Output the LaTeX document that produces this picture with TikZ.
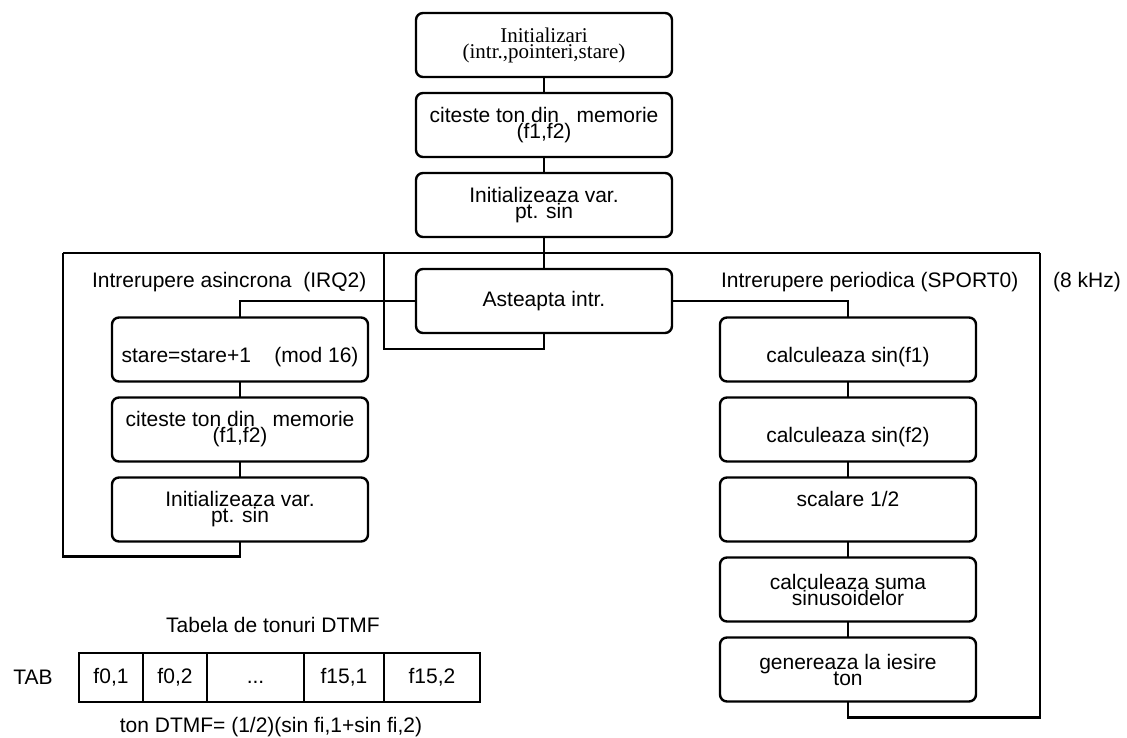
\documentclass[tikz,border=0pt]{standalone}
\usepackage{fontspec}
\setmainfont{Liberation Sans}
\newfontfamily\serifrom{Liberation Serif}
\usepackage{tikz}
\usetikzlibrary{positioning}

\newcommand{\figfont}{\fontsize{21}{16}\selectfont\lineskiplimit=-100pt}

\begin{document}
\begin{tikzpicture}[x=1pt, y=1pt, line width=2.2pt, node distance=16pt, font=\figfont,
                    BOX/.style={rectangle, draw=black, rounded corners=7pt, line width=2.4pt, minimum width=256pt, minimum height=64pt, outer sep=0pt, inner sep=0pt, align=center},
                    CELL/.style={rectangle, draw=black, line width=2pt, minimum height=49pt, outer sep=0pt, inner sep=0pt, text height=15pt, text depth=4pt},
                    LBL/.style={draw=none, fill=none, rectangle, inner sep=0pt},
                ]
                \useasboundingbox (0,0) rectangle (1127,-738);

                \begin{scope}
                    \node[BOX, font={\serifrom\figfont}] (Init) at (544,-45) {Initializari\\(intr.,pointeri,stare)};
                    \node[BOX]    (Read_Mem)     [below=of Init]     {citeste ton din\ \ \ memorie\\(f1,f2)};
                    \node[BOX]    (Init_Var)     [below=of Read_Mem] {Initializeaza var.\\pt. sin};
                    \node[BOX]    (Wait_Intr)    [below=32pt of Init_Var] {Asteapta intr.};

                    \draw (Init) -- (Read_Mem);
                    \draw (Read_Mem) -- (Init_Var);
                    \draw (Init_Var) -- (Wait_Intr);
                \end{scope}

                \coordinate (Bus_L) at (63,-253);
                \coordinate (Bus_R) at (1040,-253);
                \coordinate (Bus_T) at (384,-253);
                \draw (Bus_L) -- (Bus_R);

                \begin{scope}
                    \node[LBL, anchor=west] (Lbl_Async) at (91,-282) {Intrerupere asincrona\ \ (IRQ2)};
                    \node[BOX]    (Stare_Inc)    at (240,-349.5)      {\vphantom{(}\\stare=stare+1\ \ \ \ (mod 16)};
                    \node[BOX]    (Read_Mem_A)   [below=of Stare_Inc] {citeste ton din\ \ \ memorie\\(f1,f2)};
                    \node[BOX]    (Init_Var_A)   [below=of Read_Mem_A] {Initializeaza var.\\pt. sin};

                    \draw (Stare_Inc) -- (Read_Mem_A);
                    \draw (Read_Mem_A) -- (Init_Var_A);
                    \draw (Wait_Intr.west) -| (Stare_Inc.north);
                    \draw (Bus_L) |- ([yshift=-15pt]Init_Var_A.south) -- (Init_Var_A.south);
                    \draw (Bus_T) |- ([yshift=-16pt]Wait_Intr.south) -- (Wait_Intr.south);
                \end{scope}

                \begin{scope}
                    \node[LBL, anchor=west] (Lbl_Per) at (720,-282) {Intrerupere periodica (SPORT0)};
                    \node[LBL] (Lbl_Freq) at (1087,-282) {(8 kHz)};
                    \node[BOX]    (Sin_F1)       at (848,-349.5)      {\vphantom{(}\\calculeaza sin(f1)};
                    \node[BOX]    (Sin_F2)       [below=of Sin_F1]   {\vphantom{(}\\calculeaza sin(f2)};
                    \node[BOX]    (Scale)        [below=of Sin_F2]   {scalare 1/2\\\vphantom{(}};
                    \node[BOX]    (Sum_Sin)      [below=of Scale]    {calculeaza suma\\sinusoidelor};
                    \node[BOX]    (Gen_Out)      [below=of Sum_Sin]  {genereaza la iesire\\ton};

                    \draw (Sin_F1) -- (Sin_F2);
                    \draw (Sin_F2) -- (Scale);
                    \draw (Scale) -- (Sum_Sin);
                    \draw (Sum_Sin) -- (Gen_Out);
                    \draw (Wait_Intr.east) -| (Sin_F1.north);
                    \draw (Bus_R) |- ([yshift=-16pt]Gen_Out.south) -- (Gen_Out.south);
                \end{scope}

                % Tabela
                \node[LBL] (Tab_Title) at (273,-625) {Tabela de tonuri DTMF};
                \node[LBL] (Tab) at (33,-677) {TAB};
                \node[CELL, minimum width=64pt, anchor=north west] (F0_1) at (79,-653) {f0,1};
                \node[CELL, minimum width=64pt, right=0pt of F0_1]  (F0_2)   {f0,2};
                \node[CELL, minimum width=97pt, right=0pt of F0_2]  (F_Dots) {...};
                \node[CELL, minimum width=80pt, right=0pt of F_Dots] (F15_1) {f15,1};
                \node[CELL, minimum width=96pt, right=0pt of F15_1] (F15_2)  {f15,2};
                \node[LBL] (Ton_Formula) at (271,-727) {ton DTMF= (1/2)(sin fi,1+sin fi,2)};

            \end{tikzpicture}
\end{document}
